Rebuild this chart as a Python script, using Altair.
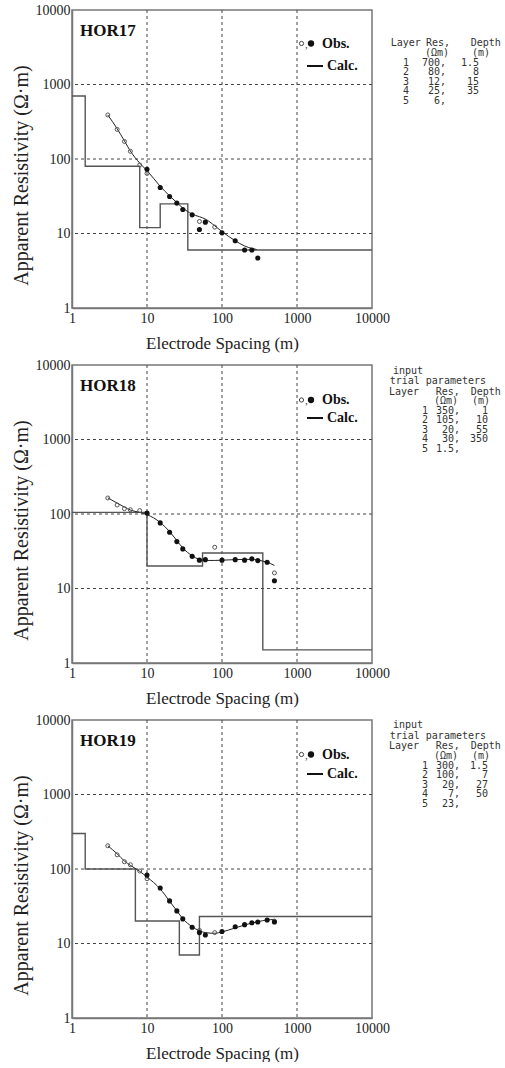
import altair as alt
import pandas as pd

# ---------------- data ----------------
tick_vals = [1, 10, 100, 1000, 10000]
grid_vals = [10, 100, 1000]

names = ["HOR17", "HOR18", "HOR19"]

# layered-earth model (resistivity, depth to bottom of layer)
res17 = [700, 80, 12, 25, 6]
dep17 = [1.5, 8, 15, 35]
res18 = [350, 105, 20, 30, 1.5]
dep18 = [1, 10, 55, 350]
res19 = [300, 100, 20, 7, 23]
dep19 = [1.5, 7, 27, 50]

# observed apparent resistivity: open circles
open17_x = [3, 4, 5, 6, 8, 10, 50, 80]
open17_y = [390, 250, 172, 127, 83, 64, 14.5, 12.2]
open18_x = [3, 4, 5, 6, 8, 80, 500]
open18_y = [164, 132, 118, 114, 111, 35.8, 16.2]
open19_x = [3, 4, 5, 6, 8, 10, 50, 80, 500]
open19_y = [205, 155, 125, 114, 94, 74, 15, 14, 20]

# observed apparent resistivity: filled circles
fill17_x = [10, 15, 20, 25, 30, 40, 50, 60, 100, 150, 200, 250, 300]
fill17_y = [73, 41.5, 31.4, 25.6, 21, 17.8, 11.3, 14.2, 10.2, 8.0, 6.0, 6.0, 4.7]
fill18_x = [10, 15, 20, 25, 30, 40, 50, 60, 100, 150, 200, 250, 300, 400, 500]
fill18_y = [103, 76, 57, 42.6, 34, 27, 24, 24.4, 24, 24.4, 24, 25, 23.7, 22.5, 12.7]
fill19_x = [10, 15, 20, 25, 30, 40, 50, 60, 100, 150, 200, 250, 300, 400, 500]
fill19_y = [83, 55.6, 37.3, 27.4, 21.4, 16.5, 14, 13, 14.5, 16.8, 17.9, 19, 19.4, 20.7, 19.4]

# calculated curves
calc17_x = [3, 4, 5, 6, 8, 10, 15, 20, 25, 30, 40, 50, 60, 80, 100, 150, 200, 250, 290]
calc17_y = [390, 255, 175, 128, 88, 70, 43, 32, 26, 22, 18.2, 16.8, 15.6, 12.7, 10.6, 8.0, 6.8, 6.3, 6.1]
calc18_x = [3, 4, 5, 6, 8, 10, 15, 20, 25, 30, 40, 50, 60, 80, 100, 150, 200, 250, 300, 400, 500]
calc18_y = [165, 140, 124, 113, 105, 98, 77, 58, 44, 35, 27.5, 24.5, 23.8, 23.8, 24, 24.4, 24.6, 24.6, 24, 22.5, 20.4]
calc19_x = [3, 4, 5, 6, 8, 10, 15, 20, 25, 30, 40, 50, 60, 80, 100, 150, 200, 250, 300, 400, 500]
calc19_y = [205, 160, 128, 112, 93, 78, 54, 37, 27.5, 21.5, 16.8, 14.8, 14, 13.7, 14.3, 16.2, 17.7, 18.8, 19.6, 20.7, 21]

X_MIN, X_MAX = 1, 10000

W, H = 300, 298
SERIF = "Liberation Serif"
TBL_FONT = "DejaVu Sans Mono"
TBL_SIZE = 10

xscale = alt.Scale(type="log", domain=[X_MIN, X_MAX], nice=False)
yscale = alt.Scale(type="log", domain=[1, 10000], nice=False)
xaxis = alt.Axis(values=tick_vals, format="d", title="Electrode Spacing (m)",
                 labelFlush=False, labelOverlap=False, labelBound=False,
                 labelPadding=3, titlePadding=10, titleFontSize=17)
yaxis = alt.Axis(values=tick_vals, format="d", title="Apparent Resistivity (Ω·m)",
                 labelFlush=False, labelOverlap=False, labelBound=False,
                 labelPadding=2, titlePadding=4, titleFontSize=20, titleY=165)


def X(f):
    return alt.X(f, type="quantitative", scale=xscale, axis=xaxis)


def Y(f):
    return alt.Y(f, type="quantitative", scale=yscale, axis=yaxis)


def txt(s, x, y, align="left", size=TBL_SIZE, font=TBL_FONT, weight="normal",
        color="#333", baseline="middle", line_height=None):
    kw = dict(align=align, baseline=baseline, font=font, fontSize=size,
              fontWeight=weight, color=color)
    if line_height is not None:
        kw.update(lineBreak="\n", lineHeight=line_height)
    return alt.Chart(pd.DataFrame({"t": [s]})).mark_text(**kw).encode(
        x=alt.value(x), y=alt.value(y), text="t:N")


layouts = [
    dict(header=[("Layer", 318.7, 33.3), ("Res,", 354, 33.3), ("Depth", 398.7, 33.3),
                 ("(Ωm)", 353, 43), ("(m)", 400, 43)],
         num_x=334, res_x=374, dep_x=407, row0=52.5, dy=9.5, obs_y=33.5, calc_y=56),
    dict(header=[("input", 321, 5.5), ("trial parameters", 317.7, 16),
                 ("Layer", 317, 26.5), ("Res,", 363.7, 26.5), ("Depth", 398.7, 26.5),
                 ("(Ωm)", 362, 36), ("(m)", 400, 36)],
         num_x=353, res_x=388, dep_x=416, row0=45.5, dy=9.5, obs_y=35, calc_y=53),
    dict(header=[("input", 321, 5), ("trial parameters", 317.7, 15.5),
                 ("Layer", 317, 26), ("Res,", 363.7, 26), ("Depth", 398.7, 26),
                 ("(Ωm)", 362, 35.5), ("(m)", 400, 35.5)],
         num_x=353, res_x=388, dep_x=416, row0=45.5, dy=9.5, obs_y=34.5, calc_y=54),
]


def panel(name, res, dep, ox, oy, fx, fy, cx, cy, lay):
    # step model
    bounds = [X_MIN] + dep + [X_MAX]
    rows = []
    k = 0
    for i, r in enumerate(res):
        a, b = bounds[i], bounds[i + 1]
        if b <= a:
            continue
        rows.append({"x": a, "y": r, "o": k}); k += 1
        rows.append({"x": b, "y": r, "o": k}); k += 1
    step_df = pd.DataFrame(rows)

    gv = pd.DataFrame({"v": grid_vals})
    vgrid = alt.Chart(gv).mark_rule(color="#444", strokeDash=[3, 3], strokeWidth=1).encode(x=X("v"))
    hgrid = alt.Chart(gv).mark_rule(color="#444", strokeDash=[3, 3], strokeWidth=1).encode(y=Y("v"))

    step = alt.Chart(step_df).mark_line(color="#555", strokeWidth=1.4).encode(
        x=X("x"), y=Y("y"), order="o:Q")
    calc = alt.Chart(pd.DataFrame({"x": cx, "y": cy})).mark_line(
        color="#222", strokeWidth=1, interpolate="monotone").encode(x=X("x"), y=Y("y"))
    opn = alt.Chart(pd.DataFrame({"x": ox, "y": oy})).mark_point(
        shape="circle", filled=False, size=16, color="#555", strokeWidth=1, opacity=1).encode(
        x=X("x"), y=Y("y"))
    fil = alt.Chart(pd.DataFrame({"x": fx, "y": fy})).mark_circle(
        size=26, color="#111", opacity=1).encode(x=X("x"), y=Y("y"))

    layers = [vgrid, hgrid, step, calc, opn, fil]

    # title inside the plot
    layers.append(txt(name, 8, 21, size=17, font=SERIF, weight="bold", color="#111"))

    # legend
    one = pd.DataFrame({"t": ["o"]})
    layers.append(alt.Chart(one).mark_point(shape="circle", filled=False, size=18,
                                             color="#444", strokeWidth=1, opacity=1).encode(
        x=alt.value(229.5), y=alt.value(lay["obs_y"])))
    layers.append(txt(",", 233, lay["obs_y"] + 1, size=11, font=SERIF, color="#333"))
    layers.append(alt.Chart(one).mark_circle(size=40, color="#111", opacity=1).encode(
        x=alt.value(239), y=alt.value(lay["obs_y"])))
    layers.append(txt("Obs.", 250, lay["obs_y"], size=14, font=SERIF, weight="bold", color="#111"))
    layers.append(alt.Chart(one).mark_rule(color="#111", strokeWidth=2).encode(
        x=alt.value(235), x2=alt.value(251), y=alt.value(lay["calc_y"])))
    layers.append(txt("Calc.", 255, lay["calc_y"], size=14, font=SERIF, weight="bold", color="#111"))

    # parameter table
    for s, x, y in lay["header"]:
        layers.append(txt(s, x, y))
    nums = "\n".join(str(i + 1) for i in range(len(res)))
    ress = "\n".join(f"{r:g}," for r in res)
    deps = "\n".join(f"{d:g}" for d in dep)
    top = lay["row0"] - 5
    layers.append(txt(nums, lay["num_x"], top, align="center", baseline="top", line_height=lay["dy"]))
    layers.append(txt(ress, lay["res_x"], top, align="right", baseline="top", line_height=lay["dy"]))
    layers.append(txt(deps, lay["dep_x"], top, align="right", baseline="top", line_height=lay["dy"]))

    return alt.layer(*layers).properties(width=W, height=H)


p1 = panel(names[0], res17, dep17, open17_x, open17_y, fill17_x, fill17_y, calc17_x, calc17_y, layouts[0])
p2 = panel(names[1], res18, dep18, open18_x, open18_y, fill18_x, fill18_y, calc18_x, calc18_y, layouts[1])
p3 = panel(names[2], res19, dep19, open19_x, open19_y, fill19_x, fill19_y, calc19_x, calc19_y, layouts[2])

chart = alt.vconcat(p1, p2, p3, spacing=5).properties(
    padding={"left": 10, "top": 2, "right": 0, "bottom": 0},
    background="white",
).configure_view(
    stroke="#777", strokeWidth=1.5
).configure_axis(
    labelFont=SERIF, labelFontSize=14, labelColor="#222",
    titleFont=SERIF, titleFontWeight="normal", titleColor="#222",
    domainColor="#777", domainWidth=1.5, ticks=False, grid=False,
)

chart.save("out.html", embed_options={"renderer": "svg", "actions": False})
